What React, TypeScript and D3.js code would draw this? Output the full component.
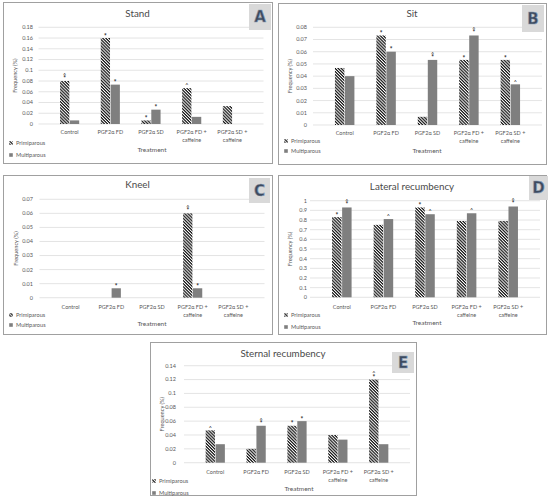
import React from 'react';
import * as d3 from 'd3';

// categories and series
const categories = ['Control', 'PGF2α FD', 'PGF2α SD', 'PGF2α FD +|caffeine', 'PGF2α SD +|caffeine'];
const seriesNames = ['Primiparous', 'Multiparous'];

const panelTitles = ['Stand', 'Sit', 'Kneel', 'Lateral recumbency', 'Sternal recumbency'];
const panelLetters = ['A', 'B', 'C', 'D', 'E'];
const yMaxes = [0.18, 0.08, 0.07, 1, 0.14];
const yStepValues = [0.02, 0.01, 0.01, 0.1, 0.02];

// frequency values
const standPrimi = [0.08, 0.16, 0.0067, 0.0667, 0.0333];
const standMulti = [0.0067, 0.0733, 0.0267, 0.0133, 0];
const sitPrimi = [0.0467, 0.0733, 0.0067, 0.0533, 0.0533];
const sitMulti = [0.04, 0.06, 0.0533, 0.0733, 0.0333];
const kneelPrimi = [0, 0, 0, 0.06, 0];
const kneelMulti = [0, 0.0067, 0, 0.0067, 0];
const lateralPrimi = [0.83, 0.75, 0.93, 0.79, 0.79];
const lateralMulti = [0.93, 0.81, 0.86, 0.87, 0.94];
const sternalPrimi = [0.0467, 0.02, 0.0533, 0.04, 0.12];
const sternalMulti = [0.0267, 0.0533, 0.06, 0.0333, 0.0267];

// significance marks above bars
const standPrimiMarks = ['^*', '*', '*', '^', ''];
const standMultiMarks = ['', '*', '*', '', ''];
const sitPrimiMarks = ['', '*', '', '*', '*'];
const sitMultiMarks = ['', '*', '^*', '^*', '^'];
const kneelPrimiMarks = ['', '', '', '^*', ''];
const kneelMultiMarks = ['', '*', '', '*', ''];
const lateralPrimiMarks = ['*', '', '*', '', ''];
const lateralMultiMarks = ['^*', '^', '^', '^', '^*'];
const sternalPrimiMarks = ['^', '', '*', '', '^*'];
const sternalMultiMarks = ['', '^*', '*', '', ''];

const primiValues = [standPrimi, sitPrimi, kneelPrimi, lateralPrimi, sternalPrimi];
const multiValues = [standMulti, sitMulti, kneelMulti, lateralMulti, sternalMulti];
const primiMarks = [standPrimiMarks, sitPrimiMarks, kneelPrimiMarks, lateralPrimiMarks, sternalPrimiMarks];
const multiMarks = [standMultiMarks, sitMultiMarks, kneelMultiMarks, lateralMultiMarks, sternalMultiMarks];

// layout of each panel on the page
type Layout = {
  box: number[];
  x: number[];
  y0: number;
  y1: number;
  tickX: number;
  yTitleX: number;
  titleY: number;
  catY: number;
  legendX: number;
  legendY: number[];
  treatX: number;
  treatY: number;
  badge: number[];
};

const layouts: Layout[] = [
  { box: [3, 2, 269, 161], x: [38.5, 263.5], y0: 124, y1: 27.3, tickX: 33, yTitleX: 15, titleY: 14, catY: 132, legendX: 11, legendY: [143, 155], treatX: 152, treatY: 150, badge: [249, 4, 22, 26] },
  { box: [278, 3, 268, 161], x: [313, 542], y0: 125, y1: 27.3, tickX: 307, yTitleX: 290, titleY: 14, catY: 133, legendX: 286, legendY: [141, 151], treatX: 427, treatY: 151, badge: [522, 5, 22, 27] },
  { box: [3, 175, 269, 159], x: [39.5, 264.5], y0: 297.7, y1: 199.3, tickX: 33, yTitleX: 16, titleY: 185, catY: 307, legendX: 11, legendY: [315, 325], treatX: 152, treatY: 324, badge: [249, 178, 21, 25] },
  { box: [278, 175, 268, 159], x: [310, 540], y0: 297.3, y1: 200.7, tickX: 307, yTitleX: 290, titleY: 187, catY: 307, legendX: 286, legendY: [315, 327], treatX: 427, treatY: 323, badge: [529, 176, 19, 24] },
  { box: [150, 342, 266, 153], x: [184, 410], y0: 462.7, y1: 365.7, tickX: 176, yTitleX: 162, titleY: 354, catY: 472, legendX: 154, legendY: [481, 493], treatX: 299, treatY: 489, badge: [392, 352, 22, 21] },
];

const FONT = 'Lato, "Open Sans", sans-serif';
const GRAY_TEXT = '#595959';
const MULTI_FILL = '#7f7f7f';

function Panel({ idx }: { idx: number }) {
  const L = layouts[idx];
  const yMax = yMaxes[idx];
  const step = yStepValues[idx];
  const y = d3.scaleLinear().domain([0, yMax]).range([L.y0, L.y1]);
  const x = d3.scaleBand<number>().domain(d3.range(categories.length)).range([L.x[0], L.x[1]]).padding(0.53);
  const xs = d3.scaleBand<number>().domain([0, 1]).range([0, x.bandwidth()]).paddingInner(0.06);
  const ticks = d3.range(0, yMax + step / 2, step);
  const fmt = (v: number) => String(+v.toFixed(2));
  const [bx, by, bw, bh] = L.box;
  const plotMid = (L.y0 + L.y1) / 2;

  const series = [primiValues[idx], multiValues[idx]];
  const marks = [primiMarks[idx], multiMarks[idx]];

  return (
    <g fontFamily={FONT}>
      <rect x={bx + 0.5} y={by + 0.5} width={bw} height={bh} fill="#fff" stroke="#a0a0a0" strokeWidth={1} />
      {/* gridlines and ticks */}
      {ticks.map((t) => (
        <g key={t}>
          <line x1={L.x[0]} x2={L.x[1]} y1={y(t)} y2={y(t)} stroke="#d9d9d9" strokeWidth={0.7} />
          <text x={L.tickX} y={y(t)} dy="0.35em" textAnchor="end" fontSize={5.5} fill={GRAY_TEXT}>
            {fmt(t)}
          </text>
        </g>
      ))}
      {/* bars */}
      {series.map((vals, s) =>
        vals.map((v, i) => {
          const bxx = (x(i) as number) + (xs(s) as number);
          const top = y(v);
          return (
            <rect
              key={`${s}-${i}`}
              x={bxx}
              y={top}
              width={xs.bandwidth()}
              height={L.y0 - top}
              fill={s === 0 ? 'url(#hatch)' : MULTI_FILL}
            />
          );
        })
      )}
      {/* marks: caret above star, in one text element */}
      {series.map((vals, s) =>
        vals.map((v, i) => {
          const m = marks[s][i];
          if (!m) return null;
          const cx = (x(i) as number) + (xs(s) as number) + xs.bandwidth() / 2;
          const top = y(v);
          if (m === '^*') {
            return (
              <text key={`m${s}-${i}`} x={cx} y={top - 4.2} textAnchor="middle" fontSize={5.5} fill="#262626">
                <tspan x={cx}>^</tspan>
                <tspan x={cx} dy={4.2} fontSize={6.5} fontWeight="bold">*</tspan>
              </text>
            );
          }
          if (m === '*') {
            return (
              <text key={`m${s}-${i}`} x={cx} y={top + 0.6} textAnchor="middle" fontSize={6.5} fontWeight="bold" fill="#262626">*</text>
            );
          }
          return (
            <text key={`m${s}-${i}`} x={cx} y={top - 0.8} textAnchor="middle" fontSize={5.5} fill="#262626">^</text>
          );
        })
      )}
      {/* category labels */}
      {categories.map((c, i) => {
        const cx = (x(i) as number) + x.bandwidth() / 2;
        const lines = c.split('|');
        return (
          <text key={i} x={cx} y={L.catY} dy="0.35em" textAnchor="middle" fontSize={5.5} fill={GRAY_TEXT}>
            {lines.map((line, k) => (
              <tspan key={k} x={cx} dy={k === 0 ? '0.35em' : 7.8}>
                {line}
              </tspan>
            ))}
          </text>
        );
      })}
      {/* axis titles */}
      <text
        transform={`translate(${L.yTitleX},${plotMid}) rotate(-90)`}
        dy="0.35em"
        textAnchor="middle"
        fontSize={5.6}
        fill={GRAY_TEXT}
      >
        Frequency (%)
      </text>
      <text x={L.treatX} y={L.treatY} dy="0.35em" textAnchor="middle" fontSize={6.5} fill={GRAY_TEXT}>
        Treatment
      </text>
      <text x={bx + bw / 2} y={L.titleY} dy="0.35em" textAnchor="middle" fontSize={9.8} fill="#4a4a4a">
        {panelTitles[idx]}
      </text>
      {/* legend */}
      {seriesNames.map((n, s) => (
        <g key={n}>
          <rect
            x={L.legendX - 1.8}
            y={L.legendY[s] - 1.8}
            width={3.6}
            height={3.6}
            fill={s === 0 ? 'url(#hatch)' : MULTI_FILL}
          />
          <text x={L.legendX + 5} y={L.legendY[s]} dy="0.35em" fontSize={5.6} fill={GRAY_TEXT}>
            {n}
          </text>
        </g>
      ))}
      {/* panel letter badge */}
      <rect x={L.badge[0]} y={L.badge[1]} width={L.badge[2]} height={L.badge[3]} fill="#d9d9d9" />
      <text
        x={L.badge[0] + L.badge[2] / 2}
        y={L.badge[1] + L.badge[3] / 2}
        dy="0.36em"
        textAnchor="middle"
        fontSize={15}
        fontWeight="bold"
        fontFamily='"DejaVu Sans", sans-serif'
        fill="#3d4b5f"
        stroke="#8a9ab0"
        strokeWidth={0.6}
      >
        {panelLetters[idx]}
      </text>
    </g>
  );
}

export default function App() {
  return (
    <svg
      width={550}
      height={504}
      viewBox="0 0 550 504"
      style={{ position: 'absolute', left: 0, top: 0, background: '#fff' }}
    >
      <defs>
        <pattern id="hatch" patternUnits="userSpaceOnUse" width={2.2} height={2.2} patternTransform="rotate(45)">
          <rect width={2.2} height={2.2} fill="#fff" />
          <rect width={2.2} height={1.2} fill="#111" />
        </pattern>
      </defs>
      {panelTitles.map((_, i) => (
        <Panel key={i} idx={i} />
      ))}
    </svg>
  );
}
